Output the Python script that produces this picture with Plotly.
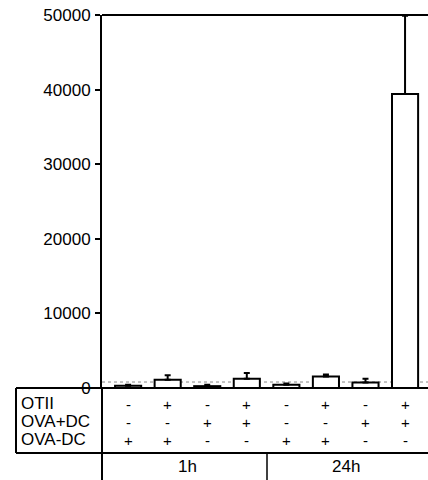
import plotly.graph_objects as go

conditions = ["c1", "c2", "c3", "c4", "c5", "c6", "c7", "c8"]
values = [300, 1100, 250, 1250, 450, 1550, 750, 39400]
errors = [150, 600, 200, 750, 150, 250, 500, 10500]
otii = ["-", "+", "-", "+", "-", "+", "-", "+"]
ova_pos = ["-", "-", "+", "+", "-", "-", "+", "+"]
ova_neg = ["+", "+", "-", "-", "+", "+", "-", "-"]
row_labels = ["OTII", "OVA+DC", "OVA-DC"]
time_labels = ["1h", "24h"]
y_ticks = [0, 10000, 20000, 30000, 40000, 50000]
baseline = 800

W, H = 428, 480
L, R, T, B = 102, 0, 15, 92
pw, ph = W - L - R, H - T - B

def px(X):
    return (X - L) / pw

def py(Y):
    return (H - B - Y) / ph

xs = list(range(len(conditions)))
fig = go.Figure()
fig.add_trace(go.Bar(
    x=xs, y=values, width=0.66,
    marker=dict(color="white", line=dict(color="black", width=2)),
    error_y=dict(type="data", array=errors, arrayminus=[0]*len(errors),
                 symmetric=False, color="black", thickness=2, width=3),
    showlegend=False, cliponaxis=False,
))

font = dict(family="Liberation Sans, Arial, sans-serif", size=17, color="black")

fig.update_layout(
    width=W, height=H,
    margin=dict(l=L, r=R, t=T, b=B, autoexpand=False),
    plot_bgcolor="white", paper_bgcolor="white",
    font=font,
    xaxis=dict(range=[-0.66, 7.58], showticklabels=False, ticks="",
               showgrid=False, zeroline=False, showline=False, automargin=False),
    yaxis=dict(range=[0, 50000], tickvals=y_ticks, tickformat="d", ticks="outside", ticklen=5,
               tickwidth=1.5, tickcolor="black", showgrid=False, zeroline=False,
               showline=True, linecolor="black", linewidth=2, ticklabelstandoff=1,
               automargin=False),
)

shapes = []
shapes.append(dict(type="line", xref="paper", yref="y", x0=0, x1=1,
                   y0=baseline, y1=baseline, layer="below",
                   line=dict(color="#888", width=1, dash="dot")))
shapes.append(dict(type="line", xref="paper", yref="paper", x0=0, x1=1.01, y0=1, y1=1,
                   line=dict(color="black", width=2)))
shapes.append(dict(type="line", xref="paper", yref="paper", x0=px(16), x1=1.01,
                   y0=0, y1=0, line=dict(color="black", width=2)))
shapes.append(dict(type="line", xref="paper", yref="paper", x0=px(16), x1=1.01,
                   y0=py(453), y1=py(453), line=dict(color="black", width=2)))
shapes.append(dict(type="line", xref="paper", yref="paper", x0=px(16), x1=px(16),
                   y0=0, y1=py(453), line=dict(color="black", width=2)))
shapes.append(dict(type="line", xref="paper", yref="paper", x0=0, x1=0,
                   y0=0, y1=py(481), line=dict(color="black", width=2)))
shapes.append(dict(type="line", xref="paper", yref="paper", x0=px(267), x1=px(267),
                   y0=py(453), y1=py(481), line=dict(color="black", width=1.5)))
fig.update_layout(shapes=shapes)

ann = []
row_y = [403, 421, 439]
for lab, yy in zip(row_labels, row_y):
    ann.append(dict(text=lab, xref="paper", yref="paper", x=px(19), y=py(yy),
                    xanchor="left", yanchor="middle", showarrow=False, font=font))
for rows, yy in zip([otii, ova_pos, ova_neg], row_y):
    for i, s in enumerate(rows):
        ann.append(dict(text=s, xref="x", yref="paper", x=xs[i], y=py(yy + 1),
                        xanchor="center", yanchor="middle", showarrow=False,
                        font=dict(family=font["family"], size=15, color="black")))
ann.append(dict(text=time_labels[0], xref="x", yref="paper", x=1.5, y=py(467),
                xanchor="center", yanchor="middle", showarrow=False, font=font))
ann.append(dict(text=time_labels[1], xref="x", yref="paper", x=5.5, y=py(467),
                xanchor="center", yanchor="middle", showarrow=False, font=font))
fig.update_layout(annotations=ann)

fig.write_html("out.html", config={"displayModeBar": False},
               post_script="document.body.style.margin='0';")
